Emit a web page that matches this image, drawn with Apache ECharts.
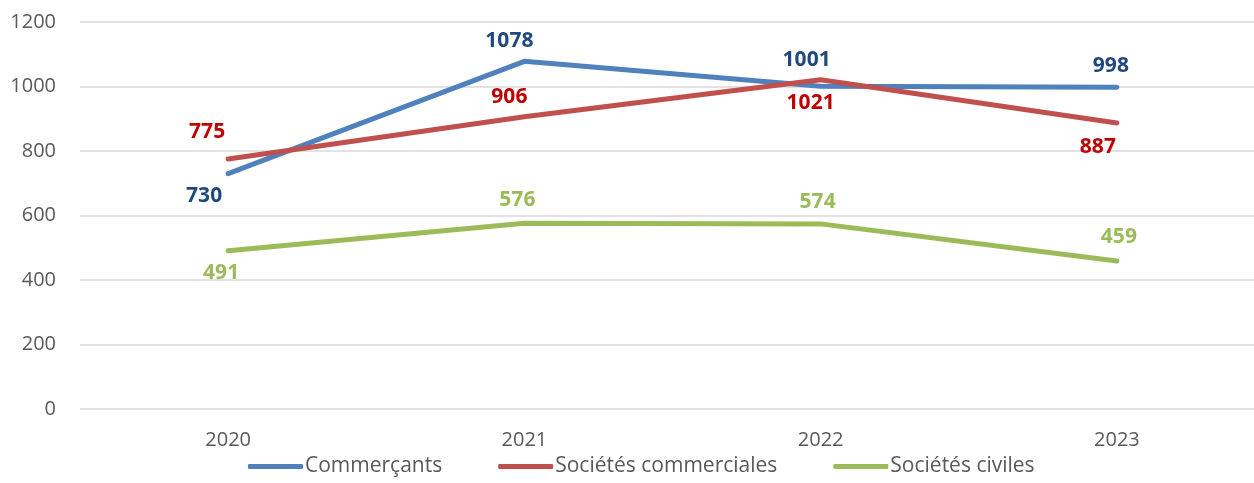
<!DOCTYPE html>
<html>
<head>
<meta charset="utf-8">
<script src="https://cdn.jsdelivr.net/npm/echarts@6/dist/echarts.min.js"></script>
<style>
  html, body { margin: 0; padding: 0; background: #fff; }
  #chart { width: 1254px; height: 483px; }
</style>
</head>
<body>
<div id="chart"></div>
<script>
var years = ['2020', '2021', '2022', '2023'];
var commercants = [730, 1078, 1001, 998];
var societesCommerciales = [775, 906, 1021, 887];
var societesCiviles = [491, 576, 574, 459];
var yTicks = [0, 200, 400, 600, 800, 1000, 1200];

// ou placer les etiquettes : [position, decalage x, distance]
var posBlue = [['bottom', -24, 12], ['top', -15, 10], ['top', -14, 16], ['top', -6, 11]];
var posRed = [['top', -21, 17], ['top', -15, 9], ['bottom', -10, 13], ['bottom', -19, 14]];
var posGreen = [['bottom', -7, 12], ['top', -7, 13], ['top', -3, 11], ['top', 2, 13]];

var font = 'Open Sans';

function mkData(vals, pos, color) {
    var out = [];
    for (var i = 0; i < vals.length; i++) {
        out.push({
            value: vals[i],
            label: {
                position: pos[i][0],
                offset: [pos[i][1], 0],
                distance: pos[i][2],
                color: color
            }
        });
    }
    return out;
}

function mkSeries(name, vals, pos, lineColor, labelColor) {
    return {
        name: name,
        type: 'line',
        data: mkData(vals, pos, labelColor),
        symbol: 'circle',
        symbolSize: 0,
        showSymbol: true,
        lineStyle: { width: 5, color: lineColor, cap: 'round', join: 'round' },
        itemStyle: { color: lineColor },
        label: {
            show: true,
            fontFamily: font,
            fontWeight: 'bold',
            fontSize: 21
        }
    };
}

var myChart = echarts.init(document.getElementById('chart'));
var option = {
    animation: false,
    backgroundColor: '#ffffff',
    grid: { left: 80, width: 1185, top: 22, bottom: 74, outerBoundsMode: 'none' },
    legend: {
        bottom: 1,
        left: 243,
        itemWidth: 55,
        itemHeight: 5,
        itemGap: 56,
        icon: 'roundRect',
        textStyle: { fontFamily: font, fontSize: 21, color: '#595959', padding: [0, 0, 0, -3] },
        data: ['Commerçants', 'Sociétés commerciales', 'Sociétés civiles']
    },
    xAxis: {
        type: 'category',
        data: years,
        boundaryGap: true,
        axisLine: { show: false },
        axisTick: { show: false },
        axisLabel: { fontFamily: font, fontSize: 20, color: '#595959', margin: 21 }
    },
    yAxis: {
        type: 'value',
        min: yTicks[0],
        max: yTicks[yTicks.length - 1],
        interval: 200,
        axisLine: { show: false },
        axisTick: { show: false },
        axisLabel: {
            fontFamily: font, fontSize: 20, color: '#595959', margin: 24,
            formatter: function (v) { return String(v); }
        },
        splitLine: { lineStyle: { color: '#d9d9d9', width: 1.5 } }
    },
    series: [
        mkSeries('Commerçants', commercants, posBlue, '#4f81bd', '#1f497d'),
        mkSeries('Sociétés commerciales', societesCommerciales, posRed, '#c0504d', '#c00000'),
        mkSeries('Sociétés civiles', societesCiviles, posGreen, '#9bbb59', '#9bbb59')
    ]
};
myChart.setOption(option);
</script>
</body>
</html>
